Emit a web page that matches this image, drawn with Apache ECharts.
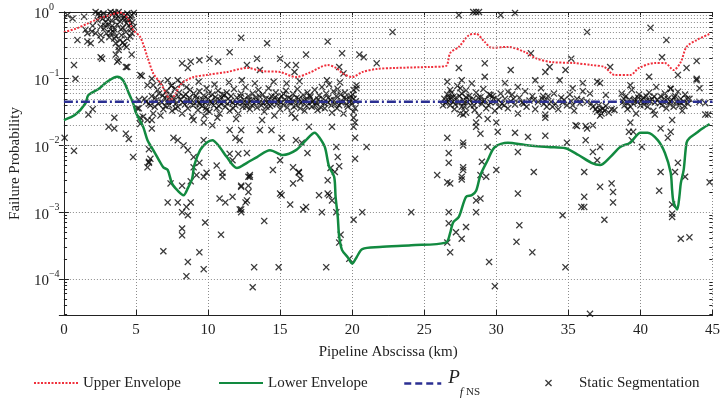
<!DOCTYPE html>
<html>
<head>
<meta charset="utf-8">
<script src="https://cdn.jsdelivr.net/npm/echarts@6/dist/echarts.min.js"></script>
<style>
  html, body {margin: 0; padding: 0; background: #fff;}
  #chart {width: 723px; height: 398px;}
</style>
</head>
<body>
<div id="chart"></div>
<script>
// envelopes, [km, probability]
const upperEnvelope = [
  [0, 0.5], [0.8, 0.56], [1.7, 0.68], [2.5, 0.81], [3.2, 0.9], [3.9, 0.98], [4.4, 0.82], [4.8, 0.54],
  [5.3, 0.42], [5.8, 0.21], [6.2, 0.12], [6.7, 0.086], [7.1, 0.06], [7.4, 0.047], [7.7, 0.058],
  [8.2, 0.086], [9.0, 0.106], [9.9, 0.114], [11.3, 0.126], [12.7, 0.145], [13.8, 0.13], [15.0, 0.126],
  [16.1, 0.106], [17.0, 0.122], [18.3, 0.16], [18.9, 0.145], [19.3, 0.122], [20.0, 0.106], [20.7, 0.126],
  [21.7, 0.14], [23.0, 0.145], [25.3, 0.15], [26.5, 0.155], [26.8, 0.243], [27.4, 0.3], [28.1, 0.45],
  [28.6, 0.47], [29.2, 0.355], [29.7, 0.29], [30.8, 0.3], [32.0, 0.25], [32.7, 0.204], [33.8, 0.178],
  [35.4, 0.172], [36.6, 0.16], [37.5, 0.15], [38.2, 0.114], [39.3, 0.114], [39.9, 0.145], [41.0, 0.172],
  [41.7, 0.172], [42.3, 0.135], [42.8, 0.178], [43.2, 0.3], [43.9, 0.38], [44.8, 0.47]
];

const lowerEnvelope = [
  [0, 0.024], [0.8, 0.029], [1.5, 0.043], [1.7, 0.057], [2.4, 0.07], [3.0, 0.09], [3.7, 0.107],
  [4.1, 0.095], [4.5, 0.061], [4.8, 0.043], [5.0, 0.031], [5.5, 0.019], [5.8, 0.012], [6.2, 0.0085],
  [6.6, 0.006], [6.9, 0.0047], [7.2, 0.0043], [7.5, 0.0027], [7.9, 0.0021], [8.3, 0.0018], [8.6, 0.0023],
  [8.9, 0.0032], [9.05, 0.0051], [9.45, 0.0085], [9.9, 0.011], [10.3, 0.012], [10.8, 0.0095],
  [11.3, 0.0067], [12.0, 0.0046], [12.7, 0.0055], [13.4, 0.0067], [14.3, 0.0085], [15.2, 0.0072],
  [16.1, 0.0085], [16.8, 0.012], [17.4, 0.0155], [17.7, 0.0134], [18.1, 0.0095], [18.4, 0.0048],
  [18.75, 0.0034], [18.85, 0.0017], [19.0, 0.00085], [19.1, 0.00043], [19.3, 0.00027], [19.7, 0.00021],
  [20.0, 0.00017], [20.3, 0.00021], [20.7, 0.00028], [21.9, 0.0003], [24.1, 0.00032], [26.5, 0.00035],
  [26.8, 0.00049], [27.0, 0.0007], [27.4, 0.00085], [27.9, 0.0017], [28.3, 0.0018], [28.6, 0.0021],
  [28.9, 0.0036], [29.4, 0.006], [29.9, 0.0095], [30.8, 0.011], [32.0, 0.0102], [33.6, 0.0095],
  [34.8, 0.0091], [35.7, 0.0072], [36.6, 0.0055], [37.2, 0.0051], [37.9, 0.0067], [38.6, 0.0095],
  [39.3, 0.011], [40.0, 0.0155], [40.5, 0.0155], [41.2, 0.012], [41.7, 0.0077], [42.1, 0.0039],
  [42.2, 0.0021], [42.3, 0.0014], [42.55, 0.0011], [42.7, 0.0017], [42.8, 0.0027], [43.0, 0.0043],
  [43.2, 0.011], [43.4, 0.0129], [43.9, 0.0155], [44.3, 0.018], [44.8, 0.021]
];

const pfNS = [[0, 0.045], [45, 0.045]];

// static segmentation points
const staticHigh = [
  [0.25, 0.9], [0.6, 0.8], [1.4, 0.85], [2.2, 1.0], [2.4, 0.95], [2.55, 0.9], [3.24, 1.0], [3.4, 0.95],
  [3.8, 1.0], [4.05, 0.9], [4.4, 0.95], [4.6, 0.85], [3.6, 0.8], [4.2, 0.76], [4.45, 0.76], [1.5, 0.54],
  [1.63, 0.48], [1.95, 0.51], [2.55, 0.6], [2.2, 0.48], [2.8, 0.57], [0.94, 0.38], [1.63, 0.36],
  [1.86, 0.34], [2.55, 0.45], [2.6, 0.38], [3.24, 0.48], [3.6, 0.43], [3.9, 0.38], [4.4, 0.4],
  [4.7, 0.48], [3.6, 0.34], [3.8, 0.3], [4.2, 0.32], [4.6, 0.43], [4.85, 0.6], [3.8, 0.27], [3.6, 0.23],
  [2.55, 0.21], [2.65, 0.2], [4.7, 0.23], [4.4, 0.15], [0.7, 0.16], [0.8, 0.1], [3.8, 0.19],
  [2.9, 0.7], [3.1, 0.65], [3.3, 0.75], [3.5, 0.55], [3.7, 0.65], [3.9, 0.72], [4.1, 0.58], [4.3, 0.5],
  [4.5, 0.62], [2.7, 0.8], [3.0, 0.88], [3.45, 0.5], [4.0, 0.45], [4.75, 0.7], [3.15, 0.42], [2.0, 0.62],
  [2.35, 0.75], [4.25, 0.88], [3.65, 0.92], [4.85, 0.97], [3.7, 0.18], [4.3, 0.15],
  [2.45, 0.85], [2.75, 0.95], [3.05, 0.78], [3.35, 0.62], [3.55, 0.98], [3.75, 0.85], [3.95, 0.55],
  [4.15, 0.82], [4.35, 0.68], [4.55, 0.75], [4.7, 0.9], [3.25, 0.55], [2.95, 0.48], [4.1, 0.35],
  [4.35, 0.3], [3.5, 0.4], [2.85, 0.62], [4.65, 0.55],
  [5.3, 0.114], [5.4, 0.11], [5.8, 0.08], [6.1, 0.1], [8.6, 0.145], [8.2, 0.17], [8.8, 0.18], [9.4, 0.19],
  [10.1, 0.2], [10.7, 0.18], [11.5, 0.25], [12.3, 0.41], [6.2, 0.08], [6.5, 0.068], [7.2, 0.095],
  [7.5, 0.08], [7.9, 0.095], [6.7, 0.086], [14.1, 0.34], [18.3, 0.36], [22.8, 0.5], [13.4, 0.2],
  [15.0, 0.2], [15.5, 0.16], [16.1, 0.16], [16.0, 0.126], [16.8, 0.23], [19.3, 0.24], [20.8, 0.21],
  [21.7, 0.17], [19.4, 0.12], [13.6, 0.135], [12.7, 0.16], [20.5, 0.23], [19.1, 0.15],
  [27.4, 0.9], [28.6, 1.0], [28.4, 1.0], [28.8, 1.0], [30.3, 0.9], [31.3, 0.97], [36.3, 0.5], [40.7, 0.58],
  [41.8, 0.38], [27.4, 0.145], [29.2, 0.17], [31.0, 0.135], [32.4, 0.24], [33.7, 0.15], [33.4, 0.126],
  [34.8, 0.135], [35.2, 0.2], [37.9, 0.15], [41.5, 0.21], [42.6, 0.114], [43.2, 0.145], [43.9, 0.185],
  [43.9, 0.1]
];

const staticBand = [
  [5.2, 0.048], [5.2, 0.036], [5.5, 0.027], [6.1, 0.024], [6.1, 0.018], [5.3, 0.021],
  [5.6, 0.05], [5.9, 0.042], [6.1, 0.055], [6.3, 0.038], [6.4, 0.047], [6.6, 0.06], [6.8, 0.044],
  [6.9, 0.035], [7.0, 0.052], [6.2, 0.03], [6.7, 0.028],
  [7.1, 0.065], [7.2, 0.045], [7.3, 0.04], [7.4, 0.058], [7.5, 0.033], [7.6, 0.05], [7.7, 0.07],
  [7.8, 0.043], [7.9, 0.038], [8.0, 0.062], [8.1, 0.048], [8.2, 0.03], [8.3, 0.055], [8.4, 0.041],
  [8.5, 0.075], [8.6, 0.036], [8.7, 0.052], [8.8, 0.045], [8.9, 0.027], [9.0, 0.06], [8.15, 0.085],
  [7.45, 0.078], [8.75, 0.068],
  [9.1, 0.042], [9.2, 0.05], [9.3, 0.034], [9.4, 0.065], [9.5, 0.047], [9.6, 0.039], [9.7, 0.056],
  [9.8, 0.044], [9.9, 0.072], [10.0, 0.05], [10.1, 0.032], [10.2, 0.046], [10.3, 0.058], [10.4, 0.04],
  [10.5, 0.053], [10.6, 0.036], [10.7, 0.066], [10.8, 0.048], [10.9, 0.042], [11.0, 0.058], [9.35, 0.09],
  [10.45, 0.082], [9.75, 0.028], [10.65, 0.026],
  [11.1, 0.045], [11.2, 0.038], [11.3, 0.062], [11.4, 0.05], [11.5, 0.033], [11.6, 0.055], [11.7, 0.044],
  [11.8, 0.07], [11.9, 0.04], [12.0, 0.052], [12.1, 0.03], [12.2, 0.046], [12.3, 0.06], [12.4, 0.038],
  [12.5, 0.049], [12.6, 0.075], [12.7, 0.042], [12.8, 0.055], [12.9, 0.035], [13.0, 0.047],
  [11.45, 0.088], [12.35, 0.095], [11.95, 0.025],
  [13.1, 0.06], [13.2, 0.043], [13.3, 0.052], [13.4, 0.037], [13.5, 0.068], [13.6, 0.045], [13.7, 0.04],
  [13.8, 0.058], [13.9, 0.032], [14.0, 0.05], [14.1, 0.044], [14.2, 0.072], [14.3, 0.039], [14.4, 0.055],
  [14.5, 0.047], [14.6, 0.028], [14.7, 0.062], [14.8, 0.042], [14.9, 0.05], [15.0, 0.035],
  [13.25, 0.085], [14.55, 0.09], [13.75, 0.024],
  [15.1, 0.055], [15.2, 0.041], [15.3, 0.048], [15.4, 0.066], [15.5, 0.037], [15.6, 0.052], [15.7, 0.044],
  [15.8, 0.03], [15.9, 0.059], [16.0, 0.046], [16.1, 0.04], [16.2, 0.07], [16.3, 0.05], [16.4, 0.036],
  [16.5, 0.045], [16.6, 0.057], [16.7, 0.033], [16.8, 0.048], [16.9, 0.062], [17.0, 0.042],
  [15.45, 0.085], [16.35, 0.092], [16.05, 0.026],
  [17.1, 0.053], [17.2, 0.038], [17.3, 0.047], [17.4, 0.068], [17.5, 0.043], [17.6, 0.034], [17.7, 0.056],
  [17.8, 0.045], [17.9, 0.075], [18.0, 0.05], [18.1, 0.036], [18.2, 0.06], [18.3, 0.044], [18.4, 0.082],
  [18.5, 0.048], [18.6, 0.031], [18.7, 0.065], [18.8, 0.042], [18.9, 0.055], [19.0, 0.07], [19.1, 0.04],
  [19.2, 0.058], [19.3, 0.046], [19.4, 0.03], [19.5, 0.062], [19.6, 0.05], [19.7, 0.038], [19.8, 0.045],
  [19.9, 0.055], [20.0, 0.042], [20.1, 0.05], [20.2, 0.036], [18.25, 0.095], [19.15, 0.088],
  [20.1, 0.068], [20.3, 0.08], [20.3, 0.072],
  [26.4, 0.05], [26.5, 0.043], [26.6, 0.058], [26.7, 0.047], [26.8, 0.04], [26.9, 0.062], [27.0, 0.045],
  [27.1, 0.035], [27.2, 0.052], [27.3, 0.078], [27.4, 0.044], [27.5, 0.03], [27.6, 0.06], [27.7, 0.048],
  [27.8, 0.038], [27.9, 0.067], [28.0, 0.045], [26.6, 0.09], [26.8, 0.068], [27.6, 0.095], [27.5, 0.072],
  [27.9, 0.053], [27.6, 0.038], [27.9, 0.031], [26.3, 0.04], [26.7, 0.052], [27.0, 0.053],
  [28.1, 0.055], [28.2, 0.04], [28.3, 0.085], [28.4, 0.05], [28.5, 0.034], [28.6, 0.062], [28.7, 0.045],
  [28.8, 0.028], [28.9, 0.053], [29.0, 0.042], [29.1, 0.07], [29.2, 0.048], [29.3, 0.036], [29.4, 0.025],
  [29.5, 0.058], [29.6, 0.044], [29.8, 0.05], [29.9, 0.033], [30.0, 0.045], [30.2, 0.038], [30.3, 0.06],
  [30.4, 0.042], [29.2, 0.107], [29.6, 0.057], [30.6, 0.086],
  [30.6, 0.05], [30.8, 0.036], [31.0, 0.046], [31.1, 0.058], [31.3, 0.041], [31.5, 0.03], [31.6, 0.052],
  [31.8, 0.044], [32.0, 0.065], [32.1, 0.038], [32.3, 0.047], [32.5, 0.055], [32.7, 0.035], [32.9, 0.045],
  [31.5, 0.075], [30.8, 0.064], [32.7, 0.095],
  [33.1, 0.072], [33.2, 0.05], [33.3, 0.042], [33.4, 0.047], [33.5, 0.038], [33.6, 0.055], [33.8, 0.045],
  [34.0, 0.06], [34.1, 0.042], [34.3, 0.035], [34.5, 0.052], [34.7, 0.048], [34.9, 0.04], [35.1, 0.058],
  [35.2, 0.046], [35.4, 0.033], [35.6, 0.05], [35.8, 0.043], [36.0, 0.065], [34.4, 0.095], [35.3, 0.072],
  [36.0, 0.086],
  [36.3, 0.045], [36.5, 0.06], [36.7, 0.038], [36.9, 0.035], [37.0, 0.032], [37.1, 0.04], [37.2, 0.034],
  [37.3, 0.03], [37.4, 0.036], [37.5, 0.033], [37.6, 0.039], [37.8, 0.031], [38.0, 0.035], [38.2, 0.034],
  [37.0, 0.09], [37.2, 0.086], [37.6, 0.057],
  [38.7, 0.06], [38.8, 0.045], [38.9, 0.04], [39.0, 0.055], [39.1, 0.035], [39.2, 0.048], [39.3, 0.038],
  [39.4, 0.068], [39.5, 0.042], [39.6, 0.05], [39.7, 0.03], [39.8, 0.045], [39.9, 0.058], [40.0, 0.04],
  [40.1, 0.048], [40.2, 0.052], [40.3, 0.045], [40.4, 0.055], [40.5, 0.038], [40.6, 0.062], [40.7, 0.046],
  [40.8, 0.05], [40.9, 0.033], [41.0, 0.044], [41.1, 0.075], [41.2, 0.048], [41.4, 0.055], [41.5, 0.04],
  [41.6, 0.045], [41.7, 0.06], [41.8, 0.036], [41.9, 0.05], [42.0, 0.042], [42.1, 0.07], [42.2, 0.047],
  [42.3, 0.038], [42.4, 0.055], [42.5, 0.045], [42.6, 0.064], [42.7, 0.04], [42.8, 0.05], [42.9, 0.033],
  [43.0, 0.046], [43.1, 0.058], [43.3, 0.042], [43.4, 0.05], [44.1, 0.072], [44.1, 0.045], [39.3, 0.08],
  [40.6, 0.107], [42.1, 0.072], [43.9, 0.095], [44.5, 0.043], [44.7, 0.029], [44.5, 0.029]
];

const staticBandCore = [
  [5.7, 0.045], [6.0, 0.04], [6.35, 0.052], [6.55, 0.042], [6.85, 0.056], [7.05, 0.039], [7.25, 0.05],
  [7.55, 0.046], [7.75, 0.036], [7.95, 0.054], [8.25, 0.044], [8.45, 0.058], [8.65, 0.047], [8.95, 0.04],
  [9.15, 0.055], [9.45, 0.041], [9.65, 0.048], [9.85, 0.037], [10.05, 0.06], [10.25, 0.043], [10.55, 0.047],
  [10.75, 0.039], [10.95, 0.052], [11.15, 0.057], [11.35, 0.042], [11.55, 0.046], [11.75, 0.036],
  [12.05, 0.043], [12.25, 0.054], [12.45, 0.044], [12.65, 0.038], [12.85, 0.048], [13.05, 0.04],
  [13.35, 0.046], [13.55, 0.055], [13.85, 0.043], [14.05, 0.038], [14.25, 0.049], [14.45, 0.041],
  [14.65, 0.053], [14.85, 0.046], [15.05, 0.044], [15.25, 0.059], [15.55, 0.045], [15.75, 0.05],
  [15.95, 0.038], [16.15, 0.052], [16.45, 0.043], [16.65, 0.047], [16.85, 0.039], [17.05, 0.056],
  [17.25, 0.045], [17.45, 0.04], [17.65, 0.049], [17.85, 0.037], [18.05, 0.043], [18.35, 0.052],
  [18.55, 0.04], [18.75, 0.047], [18.95, 0.036], [19.25, 0.044], [19.45, 0.052], [19.65, 0.041],
  [19.85, 0.049], [20.05, 0.058], [20.25, 0.046],
  [26.55, 0.046], [26.85, 0.052], [27.15, 0.041], [27.45, 0.055], [27.75, 0.043], [28.15, 0.048],
  [28.45, 0.04], [28.75, 0.052], [29.05, 0.046], [29.45, 0.04], [29.75, 0.055], [30.15, 0.048],
  [30.55, 0.04], [31.2, 0.05], [31.9, 0.042], [32.6, 0.048], [33.25, 0.055], [33.9, 0.038], [34.6, 0.044],
  [35.3, 0.04], [35.9, 0.048], [36.6, 0.042], [38.85, 0.05], [39.15, 0.043], [39.55, 0.047], [39.85, 0.052],
  [40.25, 0.041], [40.55, 0.047], [40.95, 0.054], [41.35, 0.043], [41.65, 0.05], [42.05, 0.046],
  [42.35, 0.052], [42.75, 0.044], [43.05, 0.039], [43.25, 0.05]
];

const staticLow = [
  [1.7, 0.029], [2.0, 0.035], [3.5, 0.026], [3.1, 0.019], [3.5, 0.018], [4.3, 0.015], [4.5, 0.0125],
  [0.05, 0.013], [0.7, 0.0083], [4.8, 0.0067], [5.9, 0.0088], [6.0, 0.0063], [5.9, 0.0055],
  [5.1, 0.036], [5.3, 0.026], [5.8, 0.024], [5.9, 0.0057], [5.8, 0.0047],
  [7.6, 0.013], [7.9, 0.012], [8.3, 0.01], [8.6, 0.0085], [9.0, 0.0067], [9.0, 0.0047], [9.4, 0.0055],
  [9.2, 0.0036], [9.7, 0.012], [9.9, 0.0039], [10.6, 0.005], [11.0, 0.0039], [11.7, 0.006], [12.7, 0.0077],
  [9.0, 0.024], [9.7, 0.022], [10.3, 0.02], [10.8, 0.03], [11.5, 0.017], [11.9, 0.013], [12.3, 0.017],
  [9.4, 0.043], [9.9, 0.034],
  [13.6, 0.017], [14.4, 0.017], [15.1, 0.013], [12.2, 0.012], [12.1, 0.0075], [11.5, 0.0075], [15.0, 0.006],
  [14.5, 0.0043], [16.1, 0.012], [16.5, 0.011], [17.0, 0.019], [16.3, 0.004], [16.9, 0.0077], [15.9, 0.0047],
  [18.6, 0.019], [18.9, 0.0095], [19.0, 0.0067], [19.1, 0.0049], [18.5, 0.0046], [12.9, 0.0034],
  [20.1, 0.032], [20.1, 0.026], [20.2, 0.022], [20.1, 0.019], [20.2, 0.013], [20.2, 0.0063], [21.0, 0.0095],
  [6.9, 0.00026], [7.2, 0.0014], [7.4, 0.0027], [8.2, 0.0025], [7.9, 0.0014], [8.2, 0.001], [8.5, 0.0012],
  [8.6, 0.0009], [8.8, 0.0014], [8.2, 0.00057], [8.2, 0.00045], [8.6, 0.00018], [8.5, 0.00011],
  [9.4, 0.00025], [9.7, 0.00014], [9.8, 0.0007], [9.7, 0.0034], [8.8, 0.0029], [10.9, 0.00046],
  [10.8, 0.0016], [11.2, 0.0014], [11.0, 0.0034], [11.7, 0.0017], [12.3, 0.0011], [12.3, 0.001],
  [12.3, 0.0024], [12.7, 0.0015], [12.8, 0.0034], [12.3, 0.0025], [12.8, 0.0025], [12.8, 0.002],
  [12.6, 0.0014], [12.2, 0.0011], [12.9, 0.0036], [13.2, 0.00015], [13.1, 0.000075], [13.9, 0.00074],
  [15.0, 0.0019], [15.1, 0.0018], [14.9, 0.00015], [15.7, 0.0013], [15.9, 0.0027], [16.3, 0.0039],
  [16.4, 0.0032], [16.6, 0.0011], [16.8, 0.0012], [17.7, 0.0018], [17.9, 0.001], [18.3, 0.0019],
  [18.4, 0.0018], [18.6, 0.0015], [18.3, 0.003], [18.8, 0.004], [18.9, 0.001], [18.2, 0.00015],
  [19.2, 0.00046], [19.1, 0.00035], [19.8, 0.0002], [20.1, 0.00077], [20.7, 0.001], [24.1, 0.001],
  [25.9, 0.0036], [26.6, 0.0028], [26.8, 0.0027], [27.6, 0.0031], [27.7, 0.0043], [26.7, 0.001],
  [26.7, 0.00068], [27.2, 0.0005], [27.9, 0.0006], [27.6, 0.0004], [26.6, 0.00035], [26.8, 0.00025],
  [28.6, 0.001], [28.9, 0.0036], [29.3, 0.0034], [28.6, 0.0015], [28.9, 0.0016], [29.5, 0.00018],
  [29.9, 0.000078], [31.5, 0.0019], [31.6, 0.00064], [31.4, 0.00036], [32.5, 0.00025], [32.6, 0.004],
  [34.6, 0.0009], [34.8, 0.00015], [36.1, 0.004], [36.1, 0.0017], [35.9, 0.0012], [36.1, 0.0012],
  [36.5, 0.00003], [37.2, 0.0024], [37.5, 0.00077], [38.0, 0.0027], [38.1, 0.002], [38.1, 0.0014],
  [41.3, 0.0021], [42.2, 0.0013], [42.2, 0.00095], [42.2, 0.00085], [42.4, 0.004], [41.4, 0.004],
  [42.8, 0.0004], [43.4, 0.00042], [43.1, 0.0034], [44.8, 0.0028], [30.0, 0.0043],
  [26.6, 0.013], [26.7, 0.0077], [27.7, 0.01], [27.7, 0.0047], [26.7, 0.0055], [27.6, 0.0034],
  [28.6, 0.019], [27.7, 0.029], [28.6, 0.022], [27.7, 0.011], [29.0, 0.0057], [29.4, 0.0095],
  [30.0, 0.022], [30.1, 0.016], [31.3, 0.0155], [31.5, 0.008], [32.2, 0.0134], [33.4, 0.014],
  [34.9, 0.011], [35.6, 0.0195], [36.2, 0.0195], [36.7, 0.02], [36.7, 0.008], [37.2, 0.0095],
  [37.0, 0.006], [39.3, 0.022], [40.1, 0.0095], [41.4, 0.018], [41.9, 0.013], [42.6, 0.0055],
  [33.4, 0.029], [37.2, 0.028], [41.0, 0.029], [28.9, 0.015], [33.4, 0.026], [35.5, 0.02], [36.3, 0.018],
  [36.2, 0.012], [39.2, 0.016], [39.5, 0.016], [39.4, 0.012], [42.1, 0.016], [42.2, 0.024]
];

const staticPoints = staticHigh.concat(staticBand, staticBandCore, staticLow);

const xTicks = [0, 5, 10, 15, 20, 25, 30, 35, 40, 45];
const yMin = 2.88e-5;
const yMax = 1;

// minor decade lines (2..9 x 10^n) inside the y range
const minorLevels = [];
for (let n = -5; n < 0; n++) {
  for (let k = 2; k <= 9; k++) {
    const v = k * Math.pow(10, n);
    if (v > yMin && v < yMax) minorLevels.push(v);
  }
}

const serif = 'Liberation Serif';
const crossPath = 'path://M1.3,0L5,3.7L8.7,0L10,1.3L6.3,5L10,8.7L8.7,10L5,6.3L1.3,10L0,8.7L3.7,5L0,1.3Z';

function decadeLabel(v) {
  const e = Math.log10(v);
  const r = Math.round(e);
  if (Math.abs(e - r) > 1e-6) return '';
  const exp = r < 0 ? '\u2212' + Math.abs(r) : String(r);
  return '{b|10}{e|' + exp + '}';
}

const chart = echarts.init(document.getElementById('chart'));

const minorGrid = minorLevels.map(v => ({yAxis: v}));
const minorTicks = [];
minorLevels.forEach(v => {
  minorTicks.push([{coord: [0, v]}, {coord: [0.22, v]}]);
  minorTicks.push([{coord: [44.78, v]}, {coord: [45, v]}]);
});

const legendBase = {
  top: 363,
  itemHeight: 14,
  textStyle: {fontFamily: serif, fontSize: 15, color: '#222', lineHeight: 30},
  itemStyle: {opacity: 0},
  selectedMode: false
};

const option = {
  animation: false,
  backgroundColor: '#fff',
  grid: {left: 63, right: 5, top: 12, bottom: 83},
  legend: [
    Object.assign({}, legendBase, {data: ['Upper Envelope'], left: 28, itemWidth: 44}),
    Object.assign({}, legendBase, {data: ['Lower Envelope'], left: 213, itemWidth: 44}),
    Object.assign({}, legendBase, {
      data: ['Pf'], left: 398, itemWidth: 37,
      lineStyle: {type: [7, 4], width: 2.5},
      formatter: () => '{p|P}{s|f}{n| NS}',
      textStyle: {
        fontFamily: serif, fontSize: 15, color: '#222',
        rich: {
          p: {fontFamily: serif, fontSize: 19, fontStyle: 'italic', lineHeight: 18, padding: [0, 0, 12, 2]},
          s: {fontFamily: serif, fontSize: 12, fontStyle: 'italic', lineHeight: 12, padding: [18, 0, 0, 0]},
          n: {fontFamily: serif, fontSize: 11, lineHeight: 12, padding: [18, 0, 0, 0]}
        }
      }
    }),
    Object.assign({}, legendBase, {
      data: [{name: 'Static Segmentation', icon: crossPath}], left: 540, itemWidth: 7, itemHeight: 7,
      itemStyle: {},
      textStyle: {fontFamily: serif, fontSize: 15, color: '#222', lineHeight: 30, padding: [0, 0, 0, 22]}
    })
  ],
  xAxis: [
    {
      type: 'value', min: 0, max: 45, interval: 5,
      name: 'Pipeline Abscissa (km)', nameLocation: 'middle', nameGap: 30,
      nameTextStyle: {fontFamily: serif, fontSize: 15, color: '#222'},
      axisLine: {lineStyle: {color: '#222', width: 1}},
      axisTick: {inside: true, length: 5, lineStyle: {color: '#222'}},
      axisLabel: {fontFamily: serif, fontSize: 15, color: '#222', margin: 8,
        formatter: v => xTicks.indexOf(v) >= 0 ? String(v) : ''},
      splitLine: {show: true, lineStyle: {color: '#8c8c8c', type: [1, 2], width: 1}}
    },
    {
      type: 'value', min: 0, max: 45, interval: 5, position: 'top',
      axisLine: {show: true, lineStyle: {color: '#222', width: 1}},
      axisTick: {show: true, inside: true, length: 5, lineStyle: {color: '#222'}},
      axisLabel: {show: false},
      splitLine: {show: false}
    }
  ],
  yAxis: [
    {
      type: 'log', logBase: 10, min: yMin, max: yMax,
      name: 'Failure Probability', nameLocation: 'middle', nameGap: 40,
      nameTextStyle: {fontFamily: serif, fontSize: 15, color: '#222'},
      axisLine: {show: true, lineStyle: {color: '#222', width: 1}},
      axisTick: {show: true, inside: true, length: 5, lineStyle: {color: '#222'}},
      axisLabel: {
        fontFamily: serif, color: '#222', align: 'left', margin: 30,
        formatter: decadeLabel,
        rich: {
          b: {fontFamily: serif, fontSize: 15, color: '#222', lineHeight: 20, verticalAlign: 'bottom'},
          e: {fontFamily: serif, fontSize: 10, color: '#222', lineHeight: 10, verticalAlign: 'top'}
        }
      },
      splitLine: {show: true, lineStyle: {color: '#8c8c8c', type: [1, 2], width: 1}}
    },
    {
      type: 'log', logBase: 10, min: yMin, max: yMax, position: 'right',
      axisLine: {show: true, lineStyle: {color: '#222', width: 1}},
      axisTick: {show: true, inside: true, length: 5, lineStyle: {color: '#222'}},
      axisLabel: {show: false},
      splitLine: {show: false}
    }
  ],
  series: [
    {
      name: 'grid-minor', type: 'line', data: [[0, 1e-3]], symbol: 'none', silent: true,
      lineStyle: {opacity: 0}, z: 1,
      markLine: {
        silent: true, symbol: 'none', label: {show: false}, animation: false,
        lineStyle: {color: '#8c8c8c', type: [1, 2], width: 1},
        data: minorGrid
      }
    },
    {
      name: 'tick-minor', type: 'line', data: [[0, 1e-3]], symbol: 'none', silent: true,
      lineStyle: {opacity: 0}, z: 1,
      markLine: {
        silent: true, symbol: 'none', label: {show: false}, animation: false,
        lineStyle: {color: '#222', type: 'solid', width: 1},
        data: minorTicks
      }
    },
    {
      name: 'Static Segmentation', type: 'scatter', data: staticPoints,
      symbol: crossPath, symbolSize: 7, z: 2,
      itemStyle: {color: '#0a0a0a'}
    },
    {
      name: 'Upper Envelope', type: 'line', data: upperEnvelope, symbol: 'none', smooth: 0.3, z: 3,
      lineStyle: {color: '#f0303c', width: 2, type: [2, 1.5]},
      itemStyle: {color: '#f0303c'}
    },
    {
      name: 'Lower Envelope', type: 'line', data: lowerEnvelope, symbol: 'none', smooth: 0.3, z: 3,
      lineStyle: {color: '#128a40', width: 2.5},
      itemStyle: {color: '#128a40'}
    },
    {
      name: 'Pf', type: 'line', data: pfNS, symbol: 'none', z: 4,
      lineStyle: {color: '#2b2f92', width: 2.5, type: [9, 3, 2, 3]},
      itemStyle: {color: '#2b2f92'}
    }
  ]
};

chart.setOption(option);
</script>
</body>
</html>
